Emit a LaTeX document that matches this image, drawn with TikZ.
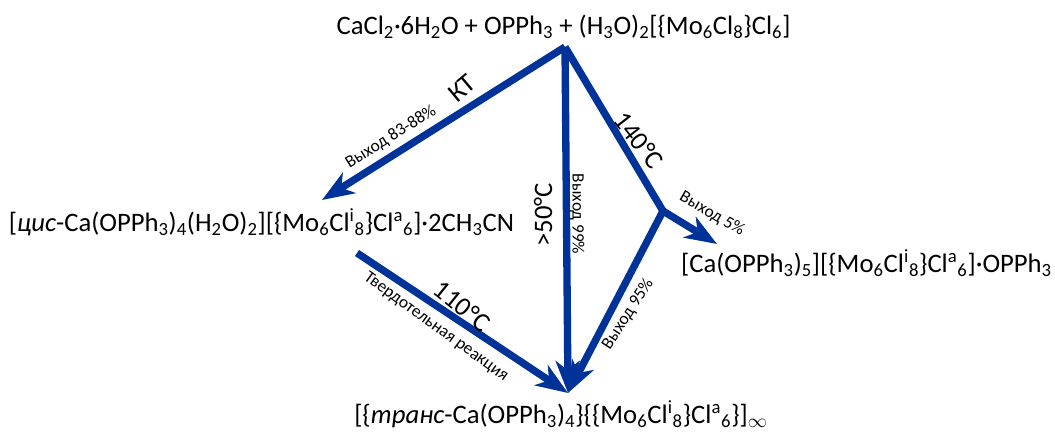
\documentclass[tikz,border=0pt]{standalone}
\usepackage{fontspec}
\setmainfont{Carlito}
\usepackage{xcolor}
\usetikzlibrary{arrows.meta}
\definecolor{strelka}{RGB}{0,51,153}
\newcommand{\nz}[1]{\textsubscript{#1}}
\newcommand{\vr}[1]{\textsuperscript{#1}}
\tikzset{
  veshch/.style={inner sep=0pt, font=\fontsize{20}{22}\selectfont},
  usl/.style={inner sep=0pt, font=\fontsize{20}{22}\selectfont},
  vyhod/.style={inner sep=0pt, font=\fontsize{13}{15}\selectfont},
  arc/.style={-{Stealth[length=24pt, width=18pt, inset=7pt]}, line width=5.5pt, strelka},
  otr/.style={line width=5.5pt, strelka}
}
\begin{document}
\begin{tikzpicture}[x=0.75pt, y=-0.75pt]
  \useasboundingbox (0,0) rectangle (1055,432);
  % veshchestva
  \node[veshch] (start) at (563.5,27) {CaCl\nz{2}·6H\nz{2}O + OPPh\nz{3} + (H\nz{3}O)\nz{2}[\{Mo\nz{6}Cl\nz{8}\}Cl\nz{6}]};
  \node[veshch] (cis) at (261.5,222) {[\textit{цис}-Ca(OPPh\nz{3})\nz{4}(H\nz{2}O)\nz{2}][\{Mo\nz{6}Cl\vr{i}\nz{8}\}Cl\vr{a}\nz{6}]·2CH\nz{3}CN};
  \node[veshch] (penta) at (866.5,263) {[Ca(OPPh\nz{3})\nz{5}][\{Mo\nz{6}Cl\vr{i}\nz{8}\}Cl\vr{a}\nz{6}]·OPPh\nz{3}};
  \node[veshch] (trans) at (561,414) {[\{\textit{транс}-Ca(OPPh\nz{3})\nz{4}\}\{\{Mo\nz{6}Cl\vr{i}\nz{8}\}Cl\vr{a}\nz{6}\}]\nz{$\infty$}};
  % tochki
  \coordinate (apex) at (565,47);
  \coordinate (razv) at (663,211);
  \coordinate (cisend) at (322,200);
  \coordinate (cisout) at (357,253);
  \coordinate (pentaend) at (717,244);
  \coordinate (transend) at (568,393);
  % strelki
  \draw[arc] (apex) -- (cisend);
  \draw[arc] (apex) -- (transend);
  \draw[otr] (apex) -- (razv);
  \draw[arc] (razv) -- (pentaend);
  \draw[arc] (razv) -- (transend);
  \draw[arc] (cisout) -- (transend);
  % podpisi
  \node[usl, rotate=40] (kt) at (462,88) {КТ};
  \node[vyhod, rotate=32] (v1) at (391,137) {Выход 83-88\%};
  \node[usl, rotate=-52] (t140) at (639,140) {140°C};
  \node[vyhod, rotate=-30] (v2) at (712,214) {Выход 5\%};
  \node[usl, rotate=90] (t50) at (543,215) {>50°C};
  \node[vyhod, rotate=-90] (v3) at (577,214) {Выход 99\%};
  \node[vyhod, rotate=57] (v4) at (628,314) {Выход 95\%};
  \node[usl, rotate=-39] (t110) at (462,306) {110°C};
  \node[vyhod, rotate=-36] (v5) at (436,327) {Твердотельная реакция};
\end{tikzpicture}
\end{document}
